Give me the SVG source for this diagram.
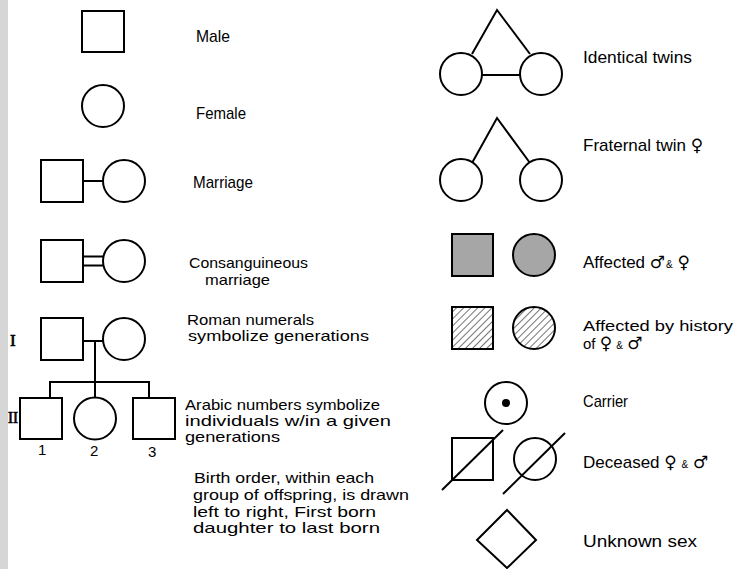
<svg xmlns="http://www.w3.org/2000/svg" width="736" height="569" viewBox="0 0 736 569">
<defs>
<pattern id="hatch" patternUnits="userSpaceOnUse" width="5" height="5" patternTransform="rotate(45)">
<rect width="5" height="5" fill="#fff"/>
<line x1="0" y1="0" x2="0" y2="5" stroke="#000" stroke-width="1.1"/>
</pattern>
</defs>
<style>
.s{fill:#fff;stroke:#000;stroke-width:2}
.a{fill:#a6a6a6;stroke:#000;stroke-width:2}
.h{fill:url(#hatch);stroke:#000;stroke-width:2}
.l{fill:none;stroke:#000;stroke-width:2}
text{font-family:"Liberation Sans","DejaVu Sans",sans-serif;font-size:17px;fill:#000}
.t{font-size:15px}
.sym{font-family:"DejaVu Sans",sans-serif;font-size:17px}
.amp{font-size:10px}
.rn{font-family:"Liberation Serif",serif;font-size:17px;stroke:#000;stroke-width:0.7}
.num{font-size:15px}
</style>
<rect x="0" y="0" width="736" height="569" fill="#fff"/>
<rect x="0" y="0" width="8" height="569" fill="#d6d6d6"/>

<g id="connectors">
<line class="l" x1="83" y1="181" x2="103" y2="181"/>
<line class="l" x1="83" y1="256.5" x2="103" y2="256.5"/>
<line class="l" x1="83" y1="265.5" x2="103" y2="265.5"/>
<line class="l" x1="83" y1="341" x2="103" y2="341"/>
<line class="l" x1="95" y1="341" x2="95" y2="382"/>
<line class="l" x1="49" y1="382" x2="149" y2="382"/>
<line class="l" x1="50" y1="381" x2="50" y2="398"/>
<line class="l" x1="95" y1="382" x2="95" y2="398"/>
<line class="l" x1="149" y1="381" x2="149" y2="398"/>
<polyline class="l" points="472,54 497,10 530,54"/>
<line class="l" x1="482" y1="75" x2="520" y2="75"/>
<polyline class="l" points="472,163 497,118 530,163"/>
</g>

<g id="male"><rect class="s" x="82" y="11" width="42" height="41"/></g>
<g id="female"><circle class="s" cx="103" cy="106" r="21"/></g>
<g id="marriage-m"><rect class="s" x="41" y="160" width="42" height="42"/></g>
<g id="marriage-f"><circle class="s" cx="124" cy="181" r="21"/></g>
<g id="consang-m"><rect class="s" x="41" y="240" width="42" height="42"/></g>
<g id="consang-f"><circle class="s" cx="124" cy="261" r="21"/></g>
<g id="gen1-m"><rect class="s" x="41" y="318" width="42" height="42"/></g>
<g id="gen1-f"><circle class="s" cx="124" cy="339" r="21"/></g>
<g id="gen2-1"><rect class="s" x="20" y="398" width="42" height="41"/></g>
<g id="gen2-2"><circle class="s" cx="95" cy="418.5" r="21"/></g>
<g id="gen2-3"><rect class="s" x="133" y="398" width="42" height="41"/></g>

<g id="twin-id-1"><circle class="s" cx="461" cy="74" r="21"/></g>
<g id="twin-id-2"><circle class="s" cx="541" cy="74" r="21"/></g>
<g id="twin-fr-1"><circle class="s" cx="461" cy="180" r="21"/></g>
<g id="twin-fr-2"><circle class="s" cx="541" cy="180" r="21"/></g>
<g id="affected-m"><rect class="a" x="452" y="234" width="41" height="42"/></g>
<g id="affected-f"><circle class="a" cx="534" cy="255" r="21"/></g>
<g id="history-m"><rect class="h" x="452" y="307" width="41" height="42"/></g>
<g id="history-f"><circle class="h" cx="534" cy="328" r="21"/></g>
<g id="carrier"><circle class="s" cx="506" cy="403" r="21"/><circle cx="506" cy="403" r="4" fill="#000"/></g>
<g id="deceased-m"><rect class="s" x="452" y="438" width="41" height="42"/><line class="l" x1="442" y1="490" x2="503" y2="430"/></g>
<g id="deceased-f"><circle class="s" cx="535" cy="459" r="21"/><line class="l" x1="503" y1="494" x2="565" y2="433"/></g>
<g id="unknown"><polygon class="s" points="507,510 536,540 507,568 477,540"/></g>

<g id="labels">
<text x="196" y="42" textLength="34" lengthAdjust="spacingAndGlyphs">Male</text>
<text x="196" y="119" textLength="50" lengthAdjust="spacingAndGlyphs">Female</text>
<text x="193" y="188" textLength="60" lengthAdjust="spacingAndGlyphs">Marriage</text>
<text class="t" x="189" y="268" textLength="119" lengthAdjust="spacingAndGlyphs">Consanguineous</text>
<text class="t" x="205" y="285" textLength="65" lengthAdjust="spacingAndGlyphs">marriage</text>
<text class="t" x="187" y="325" textLength="127" lengthAdjust="spacingAndGlyphs">Roman numerals</text>
<text class="t" x="188" y="341" textLength="181" lengthAdjust="spacingAndGlyphs">symbolize generations</text>
<text class="t" x="185" y="410" textLength="195" lengthAdjust="spacingAndGlyphs">Arabic numbers symbolize</text>
<text class="t" x="185" y="426" textLength="206" lengthAdjust="spacingAndGlyphs">individuals w/in a given</text>
<text class="t" x="185" y="442" textLength="95" lengthAdjust="spacingAndGlyphs">generations</text>
<text class="t" x="194" y="483" textLength="180" lengthAdjust="spacingAndGlyphs">Birth order, within each</text>
<text class="t" x="193" y="500" textLength="216" lengthAdjust="spacingAndGlyphs">group of offspring, is drawn</text>
<text class="t" x="193" y="517" textLength="183" lengthAdjust="spacingAndGlyphs">left to right, First born</text>
<text class="t" x="193" y="533" textLength="187" lengthAdjust="spacingAndGlyphs">daughter to last born</text>

<text class="rn" x="10" y="346">I</text>
<text class="rn" x="8" y="423" textLength="10" lengthAdjust="spacingAndGlyphs">II</text>
<text class="num" x="38" y="455">1</text>
<text class="num" x="90" y="456">2</text>
<text class="num" x="148" y="457">3</text>

<text x="583" y="63" textLength="109" lengthAdjust="spacingAndGlyphs">Identical twins</text>
<text x="583" y="151">Fraternal twin <tspan class="sym">♀</tspan></text>
<text x="583" y="268">Affected <tspan class="sym">♂</tspan><tspan class="amp" dx="1">&amp;</tspan> <tspan class="sym">♀</tspan></text>
<text class="t" x="583" y="331" textLength="150" lengthAdjust="spacingAndGlyphs">Affected by history</text>
<text class="t" x="583" y="349">of  <tspan class="sym">♀</tspan> <tspan class="amp">&amp;</tspan> <tspan class="sym">♂</tspan></text>
<text x="583" y="407" textLength="45" lengthAdjust="spacingAndGlyphs">Carrier</text>
<text x="583" y="468">Deceased <tspan class="sym">♀</tspan> <tspan class="amp">&amp;</tspan> <tspan class="sym">♂</tspan></text>
<text x="583" y="547" textLength="114" lengthAdjust="spacingAndGlyphs">Unknown  sex</text>
</g>
</svg>
